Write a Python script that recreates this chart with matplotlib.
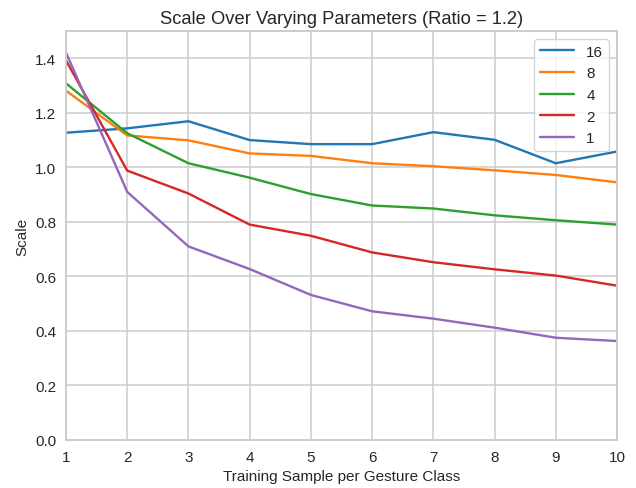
import matplotlib
matplotlib.use("Agg")
import matplotlib.pyplot as plt
import seaborn as sns

sns.set_style("whitegrid")
plt.rcParams['font.family'] = ['Liberation Sans', 'DejaVu Sans']

x = [1, 2, 3, 4, 5, 6, 7, 8, 9, 10]
labels = ["16", "8", "4", "2", "1"]
s16 = [1.127, 1.143, 1.169, 1.100, 1.085, 1.085, 1.129, 1.101, 1.015, 1.058]
s8 = [1.281, 1.117, 1.099, 1.051, 1.042, 1.015, 1.004, 0.989, 0.972, 0.945]
s4 = [1.308, 1.125, 1.015, 0.962, 0.902, 0.860, 0.849, 0.824, 0.806, 0.790]
s2 = [1.392, 0.988, 0.904, 0.790, 0.749, 0.688, 0.652, 0.626, 0.603, 0.566]
s1 = [1.421, 0.910, 0.710, 0.627, 0.532, 0.472, 0.445, 0.412, 0.375, 0.363]
series = [s16, s8, s4, s2, s1]
colors = ["#1f77b4", "#ff7f0e", "#2ca02c", "#d62728", "#9467bd"]

fig = plt.figure(figsize=(6.36, 4.89), dpi=100)
ax = fig.add_axes([66/636, (489-441)/489, (617-66)/636, (441-32)/489])
for ys, lab, c in zip(series, labels, colors):
    ax.plot(x, ys, color=c, label=lab, linewidth=1.7)
ax.set_xlim(1, 10)
ax.set_ylim(0, 1.5)
ax.set_xticks(x)
ax.set_yticks([0.0, 0.2, 0.4, 0.6, 0.8, 1.0, 1.2, 1.4])
ax.tick_params(labelsize=11)
ax.grid(linewidth=1.1)
for sp in ax.spines.values():
    sp.set_linewidth(1.4)
ax.set_xlabel("Training Sample per Gesture Class", fontsize=11)
ax.set_ylabel("Scale", fontsize=11)
ax.set_title("Scale Over Varying Parameters (Ratio = 1.2)", fontsize=13.2)
ax.legend(loc="upper right", fontsize=11, handlelength=2.2, borderaxespad=0.5)
fig.savefig("out.png", dpi=100)
